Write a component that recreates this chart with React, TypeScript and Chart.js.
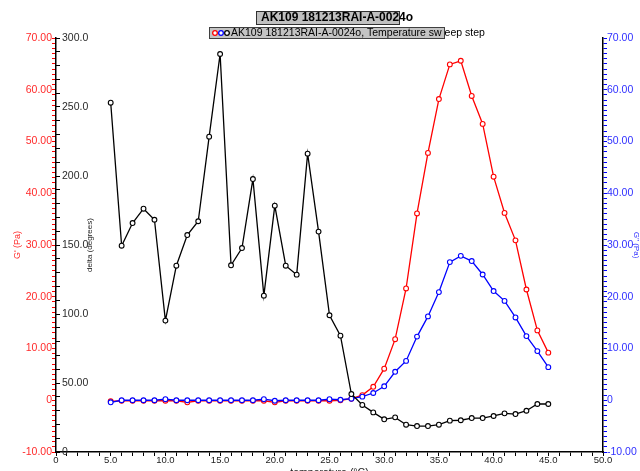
import { useEffect, useRef } from "react";
import { Chart, registerables } from "chart.js";

Chart.register(...registerables);

// ---- data ----
const temperatures = [5, 6, 7, 8, 9, 10, 11, 12, 13, 14, 15, 16, 17, 18, 19, 20, 21, 22, 23, 24, 25, 26, 27, 28, 29, 30, 31, 32, 33, 34, 35, 36, 37, 38, 39, 40, 41, 42, 43, 44, 45];

const gPrime = [-0.2, -0.1, -0.1, -0.1, -0.1, -0.1, -0.1, -0.4, -0.1, -0.1, -0.1, -0.1, -0.1, -0.1, -0.1, -0.4, -0.1, -0.1, -0.1, -0.1, -0.1, 0.0, 0.3, 1.0, 2.6, 6.1, 11.8, 21.6, 36.1, 47.8, 58.2, 64.9, 65.6, 58.8, 53.4, 43.2, 36.2, 30.9, 21.4, 13.5, 9.2];

const gDoublePrime = [-0.4, 0.0, 0.0, 0.0, 0.0, 0.2, 0.0, 0.0, 0.0, 0.0, 0.0, 0.0, 0.0, 0.0, 0.2, -0.1, 0.0, 0.0, 0.0, 0.0, 0.2, 0.1, 0.3, 0.7, 1.4, 2.7, 5.5, 7.6, 12.3, 16.2, 20.9, 26.7, 27.9, 26.9, 24.3, 21.1, 19.2, 16.0, 12.4, 9.5, 6.4];

const delta = [253.1, 149.5, 165.9, 176.3, 168.3, 95.2, 135.0, 157.2, 167.2, 228.5, 288.4, 135.3, 147.8, 197.8, 113.3, 178.5, 135.0, 128.5, 216.2, 159.7, 99.1, 84.3, 42.0, 34.1, 28.7, 23.7, 25.1, 19.8, 18.8, 18.8, 19.8, 22.7, 23.0, 24.6, 24.6, 26.1, 28.0, 27.5, 29.9, 34.8, 34.8];

const chartTitle = "AK109 181213RAI-A-0024o";
const legendLabel = "AK109 181213RAI-A-0024o, Temperature sw eep step";
const xTitle = "temperature (°C)";
const gPrimeTitle = "G' (Pa)";
const gDoublePrimeTitle = "G'' (Pa)";
const deltaTitle = "delta (degrees)";

const xRange = [0, 50];
const gRange = [-10, 70];
const deltaRange = [0, 300];

const FONT = '"Liberation Sans", Arial, Helvetica, sans-serif';
const RED = "#ff0000";
const BLUE = "#0000ff";
const BLACK = "#000000";

const fmtG = (v: number) => (v % 10 === 0 ? (v === 0 ? "0" : v.toFixed(2)) : "");
const fmtDelta = (v: number) =>
  v % 50 === 0 ? (v === 0 ? "0" : v < 100 ? v.toFixed(2) : v.toFixed(1)) : "";
const fmtX = (v: number) => (v % 5 === 0 ? (v === 0 ? "0" : v.toFixed(1)) : "");

const headerPlugin = {
  id: "headerPlugin",
  afterDraw(chart: any) {
    const ctx: CanvasRenderingContext2D = chart.ctx;
    const area = chart.chartArea;
    ctx.save();
    // title box
    ctx.fillStyle = "#c0c0c0";
    ctx.fillRect(256, 11, 143, 13);
    ctx.strokeStyle = "#303030";
    ctx.lineWidth = 1;
    ctx.strokeRect(256.5, 11.5, 143, 13);
    ctx.fillStyle = "#000";
    ctx.font = "bold 12px " + FONT;
    ctx.textBaseline = "middle";
    ctx.textAlign = "left";
    ctx.fillText(chartTitle, 261, 18);

    // legend box
    ctx.fillStyle = "#c4c4c4";
    ctx.fillRect(209, 27, 235, 11);
    ctx.strokeStyle = "#404040";
    ctx.strokeRect(209.5, 27.5, 235, 11);
    const markers = [
      { c: RED, x: 215 },
      { c: BLUE, x: 221 },
      { c: BLACK, x: 227 },
    ];
    markers.forEach((m) => {
      ctx.strokeStyle = m.c;
      ctx.lineWidth = 1.2;
      ctx.beginPath();
      ctx.moveTo(m.x - 3, 33);
      ctx.lineTo(m.x + 3, 33);
      ctx.stroke();
    });
    markers.forEach((m) => {
      ctx.strokeStyle = m.c;
      ctx.fillStyle = "#ffffff";
      ctx.lineWidth = 1.2;
      ctx.beginPath();
      ctx.arc(m.x, 33, 2.3, 0, Math.PI * 2);
      ctx.fill();
      ctx.stroke();
    });
    ctx.fillStyle = "#000";
    ctx.font = "10.5px " + FONT;
    ctx.fillText(legendLabel, 231, 33);

    // delta axis title (inside plot)
    ctx.translate(area.left + 34, (area.top + area.bottom) / 2);
    ctx.rotate(-Math.PI / 2);
    ctx.textAlign = "center";
    ctx.fillStyle = "#222";
    ctx.font = "8px " + FONT;
    ctx.fillText(deltaTitle, 0, 0);
    ctx.restore();
  },
};

export default function App() {
  const ref = useRef<HTMLCanvasElement | null>(null);

  useEffect(() => {
    if (!ref.current) return;
    const toPts = (ys: number[]) => temperatures.map((t, i) => ({ x: t, y: ys[i] }));
    const pointOpts = {
      pointRadius: 2.4,
      pointBorderWidth: 1.1,
      pointBackgroundColor: "#ffffff",
      borderWidth: 1.3,
      tension: 0,
      fill: false,
    };
    const chart = new Chart(ref.current, {
      type: "line",
      data: {
        datasets: [
          {
            label: "G'",
            data: toPts(gPrime),
            borderColor: RED,
            pointBorderColor: RED,
            yAxisID: "yG",
            xAxisID: "x",
            order: 2,
            ...pointOpts,
          },
          {
            label: "G''",
            data: toPts(gDoublePrime),
            borderColor: BLUE,
            pointBorderColor: BLUE,
            yAxisID: "yGG",
            xAxisID: "x",
            order: 1,
            ...pointOpts,
          },
          {
            label: "delta",
            data: toPts(delta),
            borderColor: BLACK,
            pointBorderColor: BLACK,
            yAxisID: "yD",
            xAxisID: "x",
            order: 0,
            ...pointOpts,
          },
        ],
      },
      options: {
        animation: false,
        responsive: false,
        maintainAspectRatio: false,
        events: [],
        layout: { padding: { top: 38, left: 0, right: 0, bottom: 0 } },
        plugins: {
          legend: { display: false },
          title: { display: false },
          tooltip: { enabled: false },
        },
        scales: {
          x: {
            type: "linear",
            position: "bottom",
            min: xRange[0],
            max: xRange[1],
            ticks: {
              stepSize: 1,
              autoSkip: false,
              maxRotation: 0,
              padding: 0,
              color: "#222",
              font: { family: FONT, size: 9.5, lineHeight: 1 },
              callback: (v: any) => fmtX(Number(v)),
            },
            grid: {
              display: true,
              drawOnChartArea: false,
              drawTicks: true,
              tickLength: 4,
              tickColor: BLACK,
              tickWidth: 1,
            },
            border: { display: true, color: BLACK, width: 1.5 },
            title: {
              display: true,
              text: xTitle,
              color: "#222",
              font: { family: FONT, size: 10.5, lineHeight: 1 },
              padding: { top: 0, bottom: -7.5 },
            },
            afterFit: (s: any) => {
              s.height = 19;
            },
          },
          yG: {
            type: "linear",
            position: "left",
            weight: 1,
            min: gRange[0],
            max: gRange[1],
            ticks: {
              stepSize: 1,
              autoSkip: false,
              padding: 0,
              color: "#ff2a2a",
              font: { family: FONT, size: 10.5 },
              callback: (v: any) => fmtG(Number(v)),
            },
            grid: {
              display: true,
              drawOnChartArea: false,
              drawTicks: true,
              tickLength: 4,
              tickColor: RED,
              tickWidth: 1,
            },
            border: { display: true, color: BLACK, width: 1.5 },
            title: {
              display: true,
              text: gPrimeTitle,
              color: "#ff2a2a",
              font: { family: FONT, size: 9, lineHeight: 1.2 },
              padding: { top: 12.6, bottom: 0 },
            },
            afterFit: (s: any) => {
              s.width = 56;
            },
          },
          yD: {
            type: "linear",
            position: "left",
            weight: 0,
            min: deltaRange[0],
            max: deltaRange[1],
            ticks: {
              stepSize: 10,
              autoSkip: false,
              mirror: true,
              padding: 6,
              color: "#2a2a2a",
              font: { family: FONT, size: 10.5 },
              callback: (v: any) => fmtDelta(Number(v)),
            },
            grid: {
              display: true,
              drawOnChartArea: false,
              drawTicks: true,
              tickLength: -4,
              tickColor: BLACK,
              tickWidth: 1,
            },
            border: { display: false },
            afterFit: (s: any) => {
              s.width = 0;
            },
          },
          yGG: {
            type: "linear",
            position: "right",
            min: gRange[0],
            max: gRange[1],
            ticks: {
              stepSize: 1,
              autoSkip: false,
              padding: 0,
              color: "#3030ff",
              font: { family: FONT, size: 10.5 },
              callback: (v: any) => fmtG(Number(v)),
            },
            grid: {
              display: true,
              drawOnChartArea: false,
              drawTicks: true,
              tickLength: 4,
              tickColor: BLUE,
              tickWidth: 1,
            },
            border: { display: true, color: BLACK, width: 1.5 },
            title: {
              display: true,
              text: gDoublePrimeTitle,
              color: "#3030ff",
              font: { family: FONT, size: 8, lineHeight: 1 },
              padding: { top: 0, bottom: 0 },
            },
            afterFit: (s: any) => {
              s.width = 37;
            },
          },
        },
      } as any,
      plugins: [headerPlugin],
    });
    return () => chart.destroy();
  }, []);

  return (
    <div style={{ position: "absolute", left: 0, top: 0, width: 640, height: 471, overflow: "hidden", background: "#fff" }}>
      <canvas ref={ref} width={640} height={471} style={{ display: "block" }} />
    </div>
  );
}
